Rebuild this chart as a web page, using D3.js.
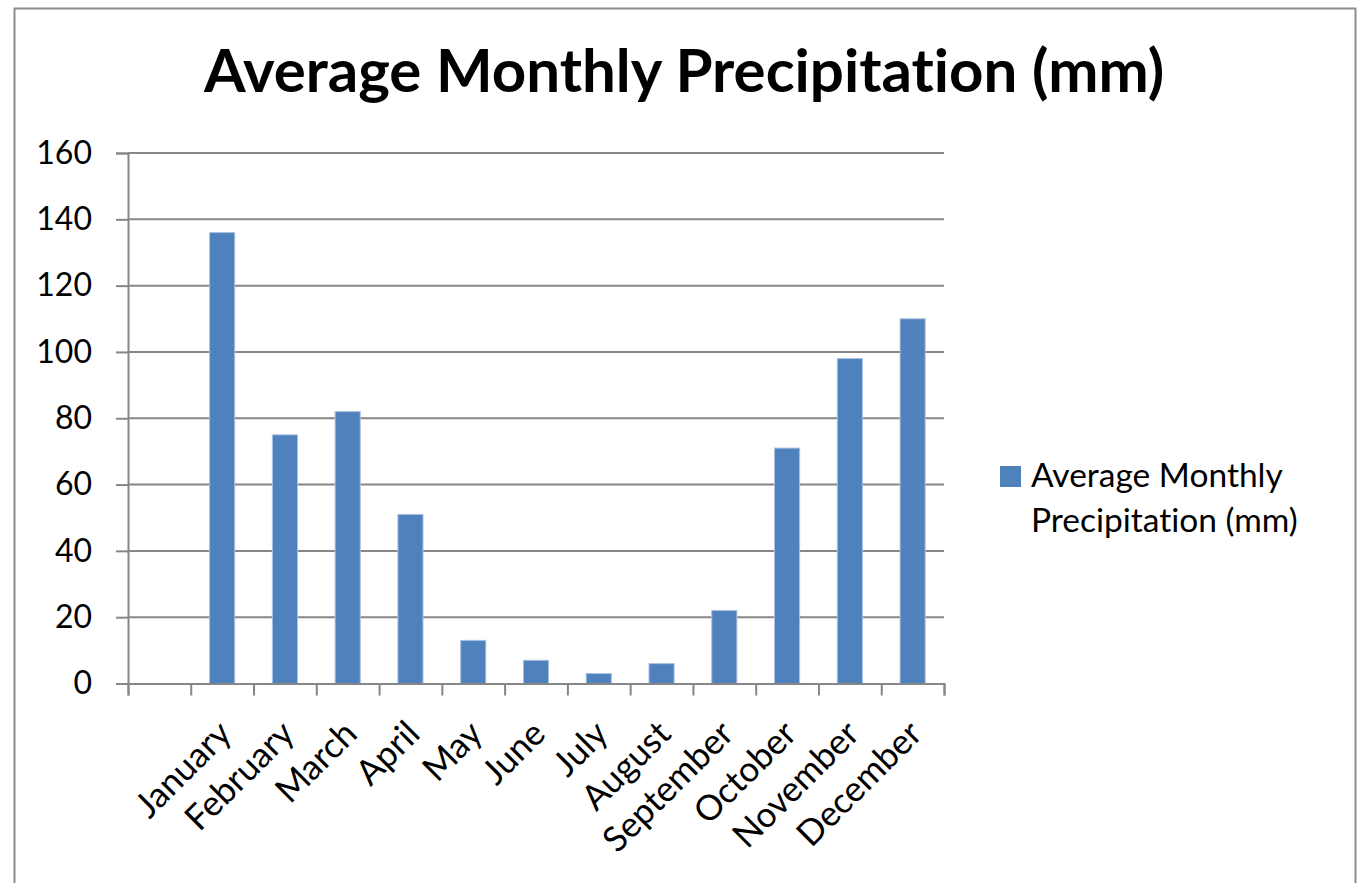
<!DOCTYPE html>
<html>
<head>
<meta charset="utf-8">
<script src="https://cdn.jsdelivr.net/npm/d3@7"></script>
<style>
  body { margin: 0; background: #fff; }
  text { font-family: Lato, "Open Sans", sans-serif; fill: #000; font-variant-ligatures: none; }
</style>
</head>
<body>
<div id="vizcontainer"></div>
<script>
const
  width = 1360,
  height = 883
  ;

const chartTitle = 'Average Monthly Precipitation (mm)';
const seriesName = ['Average Monthly', 'Precipitation (mm)'];
// first slot is an empty category in the original sheet
const months = ['', 'January', 'February', 'March', 'April', 'May', 'June',
  'July', 'August', 'September', 'October', 'November', 'December'];
const precip = [null, 136, 75, 82, 51, 13, 7, 3, 6, 22, 71, 98, 110];
const yTicks = [0, 20, 40, 60, 80, 100, 120, 140, 160];

const plot = { left: 128, right: 944, top: 153, bottom: 683.5 };
const gridColor = '#868686';
const barColor = '#4f81bd';

let svg = d3.select('#vizcontainer')
  .append('svg')
  .attr('width', width)
  .attr('height', height);

// outer chart border (bottom edge runs off the page)
svg.append('rect')
  .attr('x', 14.5)
  .attr('y', 8.5)
  .attr('width', 1341)
  .attr('height', 920)
  .attr('fill', '#fff')
  .attr('stroke', '#8c8c8c')
  .attr('stroke-width', 2);

svg.append('text')
  .attr('x', 684)
  .attr('y', 92)
  .attr('text-anchor', 'middle')
  .attr('font-size', 60)
  .attr('font-weight', 'bold')
  .text(chartTitle);

let yScale = d3.scaleLinear()
  .domain([0, 160])
  .range([plot.bottom, plot.top]);

let xScale = d3.scaleBand()
  .domain(months.map((m, i) => i))
  .range([plot.left, plot.right])
  .paddingInner(0.6)
  .paddingOuter(0.3);

// slot boundaries for the category tick marks
let slotScale = d3.scaleLinear()
  .domain([0, months.length])
  .range([plot.left, plot.right]);

// gridlines
svg.append('g')
  .selectAll('line')
  .data(yTicks.filter(d => d > 0))
  .join('line')
  .attr('x1', plot.left)
  .attr('x2', plot.right)
  .attr('y1', d => yScale(d))
  .attr('y2', d => yScale(d))
  .attr('stroke', gridColor)
  .attr('stroke-width', 2);

// bars
svg.append('g')
  .selectAll('rect')
  .data(precip.map((v, i) => ({ i, v })).filter(d => d.v != null))
  .join('rect')
  .attr('x', d => xScale(d.i))
  .attr('width', xScale.bandwidth())
  .attr('y', d => yScale(d.v))
  .attr('height', d => yScale(0) - yScale(d.v))
  .attr('fill', barColor)
  .attr('stroke', '#a9c1e0')
  .attr('stroke-width', 1);

// y axis
let yAxis = svg.append('g')
  .attr('transform', `translate(${plot.left},0)`)
  .call(d3.axisLeft(yScale).tickValues(yTicks).tickSize(12).tickPadding(24));
yAxis.select('.domain').attr('stroke', gridColor).attr('stroke-width', 2);
yAxis.selectAll('.tick line').attr('stroke', gridColor).attr('stroke-width', 2);
yAxis.selectAll('.tick text')
  .attr('font-size', 32)
  .attr('font-family', 'Lato, sans-serif')
  .attr('fill', '#000');

// x axis
let xAxis = svg.append('g')
  .attr('transform', `translate(0,${plot.bottom})`)
  .call(d3.axisBottom(slotScale).tickValues(d3.range(months.length + 1)).tickSize(12).tickFormat(''));
xAxis.select('.domain').attr('stroke', gridColor).attr('stroke-width', 2);
xAxis.selectAll('.tick line').attr('stroke', gridColor).attr('stroke-width', 2);

svg.append('g')
  .selectAll('text')
  .data(months.map((m, i) => ({ m, i })).filter(d => d.m))
  .join('text')
  .attr('transform', d => `translate(${xScale(d.i) + xScale.bandwidth() / 2 - 6},${plot.bottom + 35}) rotate(-45)`)
  .attr('text-anchor', 'end')
  .attr('dy', '0.7em')
  .attr('font-size', 35)
  .text(d => d.m);

// legend
let legend = svg.append('g').attr('transform', 'translate(1000,466)');
legend.append('rect')
  .attr('width', 21)
  .attr('height', 21)
  .attr('fill', barColor);
legend.append('text')
  .attr('x', 31)
  .attr('font-size', 33.5)
  .selectAll('tspan')
  .data(seriesName)
  .join('tspan')
  .attr('x', 31)
  .attr('y', (d, i) => 21 + i * 45)
  .text(d => d);
</script>
</body>
</html>
